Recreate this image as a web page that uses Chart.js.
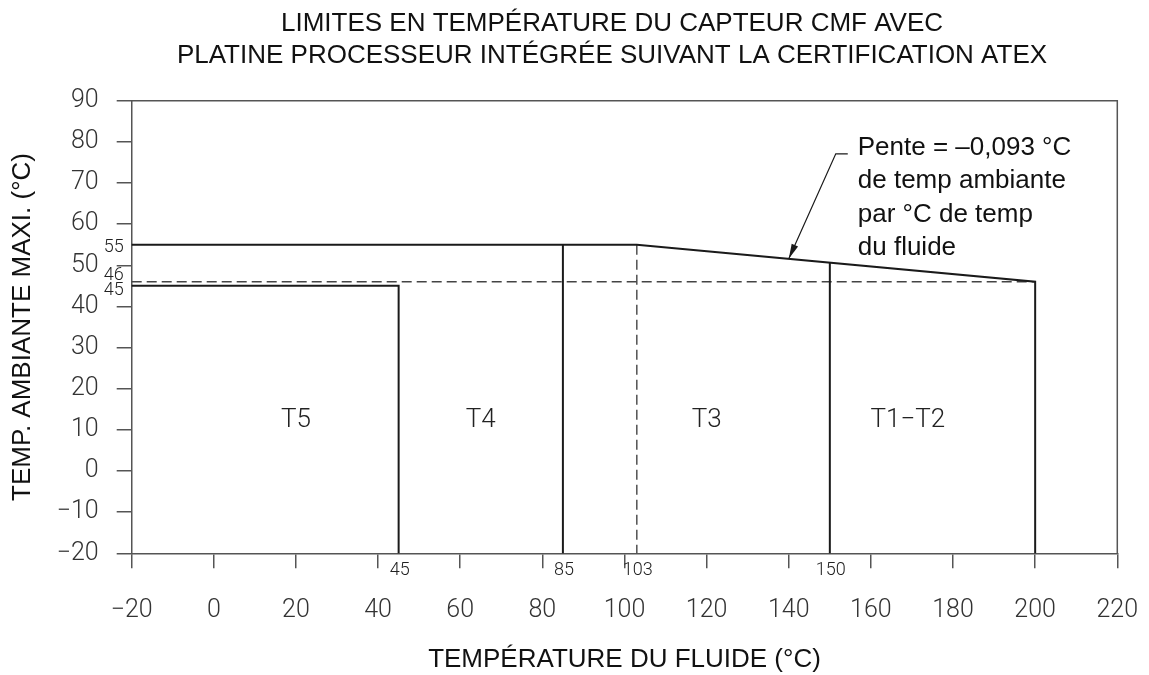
<!DOCTYPE html>
<html lang="fr">
<head>
<meta charset="utf-8">
<title>Limites en température du capteur CMF</title>
<script src="https://cdn.jsdelivr.net/npm/chart.js@4.4.1/dist/chart.umd.min.js"></script>
<style>
  html, body { margin: 0; padding: 0; background: #ffffff; }
  #wrap { width: 1149px; height: 675px; }
</style>
</head>
<body>
<div id="wrap"><canvas id="chart" width="1149" height="675"></canvas></div>
<script>
// Axis tick values
const fluidTicks = [-20, 0, 20, 40, 60, 80, 100, 120, 140, 160, 180, 200, 220];
const ambientTicks = [-20, -10, 0, 10, 20, 30, 40, 50, 60, 70, 80, 90];

// Maximum ambient temperature: 55 °C up to 103 °C of fluid, then down to 46 °C at 200 °C
const limitFluid = [-20, 103, 200, 200];
const limitAmbient = [55, 55, 46, -20];
const limitSlope = -0.093;

// T5 zone
const t5Fluid = [-20, 45, 45];
const t5Ambient = [45, 45, -20];

// T4 / T3 boundary
const t4Fluid = [85, 85];
const t4Ambient = [55, -20];

// T3 / T1-T2 boundary
const t3Fluid = [150, 150];
const t3Ambient = [50.6, -20];

// Dashed reference lines
const refFluid = [-20, 200];
const refAmbient = [46, 46];
const kneeFluid = [103, 103];
const kneeAmbient = [55, -20];

// Temperature classes
const classNames = ['T5', 'T4', 'T3', 'T1\u2212T2'];

// Values written next to the axes
const markedFluid = [45, 85, 103, 150];
const markedAmbient = [55, 46, 45];

const titleLines = [
  'LIMITES EN TEMPÉRATURE DU CAPTEUR CMF AVEC',
  'PLATINE PROCESSEUR INTÉGRÉE SUIVANT LA CERTIFICATION ATEX'
];
const noteLines = ['Pente = \u20130,093 °C', 'de temp ambiante', 'par °C de temp', 'du fluide'];

const toPoints = (xs, ys) => xs.map((v, i) => ({ x: v, y: ys[i] }));
const minus = v => (v < 0 ? '\u2212' + Math.abs(v) : String(v));

const THIN = 'Roboto';
const SANS = '"Liberation Sans", Arial, sans-serif';

function line(label, xs, ys, extra) {
  return Object.assign({
    label,
    data: toPoints(xs, ys),
    showLine: true,
    borderColor: '#1a1a1a',
    borderWidth: 2,
    pointRadius: 0,
    pointHoverRadius: 0,
    fill: false,
    tension: 0,
    clip: 4
  }, extra || {});
}

// Frame, title, zone names, marked values and the slope note
const drawingNotes = {
  id: 'drawingNotes',
  afterDatasetsDraw(chart, args, opts) {
    const { ctx, chartArea: a, scales: { x, y } } = chart;
    ctx.save();

    // top and right edges of the frame
    ctx.strokeStyle = '#555';
    ctx.lineWidth = 1.5;
    ctx.beginPath();
    ctx.moveTo(a.left, a.top);
    ctx.lineTo(a.right, a.top);
    ctx.lineTo(a.right, a.bottom);
    ctx.stroke();

    // chart title
    ctx.fillStyle = '#111';
    ctx.font = '26px ' + SANS;
    ctx.textAlign = 'center';
    ctx.textBaseline = 'alphabetic';
    titleLines.forEach((t, i) => ctx.fillText(t, opts.titleX, opts.titleBaseline + i * opts.titleLeading));

    // temperature class names
    ctx.fillStyle = '#222';
    ctx.font = '300 26px ' + THIN;
    ctx.textBaseline = 'middle';
    classNames.forEach((n, i) => {
      ctx.fillText(n, x.getPixelForValue(opts.classX[i]), y.getPixelForValue(opts.classY));
    });

    // marked fluid temperatures under the axis
    ctx.font = '300 18px ' + THIN;
    ctx.textBaseline = 'alphabetic';
    ctx.textAlign = 'center';
    markedFluid.forEach(v => ctx.fillText(String(v), x.getPixelForValue(v) + 1, a.bottom + 22));

    // marked ambient temperatures beside the axis
    ctx.textAlign = 'right';
    markedAmbient.forEach((v, i) => {
      ctx.fillText(String(v), a.left - 8, y.getPixelForValue(v) + opts.ambientShift[i]);
    });

    // leader arrow onto the sloped limit
    const tipX = x.getPixelForValue(opts.arrowFluid);
    const tipY = y.getPixelForValue(limitAmbient[1] + limitSlope * (opts.arrowFluid - limitFluid[1]));
    const elbowX = tipX + 47, elbowY = tipY - 105;
    ctx.strokeStyle = '#1a1a1a';
    ctx.fillStyle = '#1a1a1a';
    ctx.lineWidth = 1.2;
    ctx.beginPath();
    ctx.moveTo(elbowX + 12, elbowY);
    ctx.lineTo(elbowX, elbowY);
    ctx.lineTo(tipX, tipY);
    ctx.stroke();
    const ang = Math.atan2(tipY - elbowY, tipX - elbowX);
    const len = 15, half = 3.5;
    ctx.beginPath();
    ctx.moveTo(tipX, tipY);
    ctx.lineTo(tipX - len * Math.cos(ang) + half * Math.sin(ang), tipY - len * Math.sin(ang) - half * Math.cos(ang));
    ctx.lineTo(tipX - len * Math.cos(ang) - half * Math.sin(ang), tipY - len * Math.sin(ang) + half * Math.cos(ang));
    ctx.closePath();
    ctx.fill();

    // note text
    ctx.fillStyle = '#111';
    ctx.font = '26px ' + SANS;
    ctx.textAlign = 'left';
    ctx.textBaseline = 'alphabetic';
    noteLines.forEach((t, i) => ctx.fillText(t, elbowX + 22, elbowY + 1 + i * 33.5));

    ctx.restore();
  }
};

new Chart(document.getElementById('chart'), {
  type: 'scatter',
  data: {
    datasets: [
      line('Limite', limitFluid, limitAmbient),
      line('T5', t5Fluid, t5Ambient),
      line('T4', t4Fluid, t4Ambient),
      line('T3', t3Fluid, t3Ambient),
      line('46', refFluid, refAmbient, { borderColor: '#444', borderWidth: 1.4, borderDash: [10, 5] }),
      line('103', kneeFluid, kneeAmbient, { borderColor: '#444', borderWidth: 1.4, borderDash: [10, 5] })
    ]
  },
  options: {
    responsive: false,
    animation: false,
    devicePixelRatio: 1,
    events: [],
    layout: { padding: { left: 0, top: 100.7, right: 31.7, bottom: 0 } },
    plugins: {
      legend: { display: false },
      title: { display: false },
      tooltip: { enabled: false },
      drawingNotes: {
        titleX: 612,
        titleBaseline: 31,
        titleLeading: 32.3,
        classX: [20, 65, 120, 169],
        classY: 12.2,
        ambientShift: [7, -2, 9],
        arrowFluid: 140
      }
    },
    scales: {
      x: {
        type: 'linear',
        position: 'bottom',
        min: -20,
        max: 220,
        afterBuildTicks: s => { s.ticks = fluidTicks.map(v => ({ value: v })); },
        afterFit: s => { s.height = 121.7; s.paddingLeft = 0; s.paddingRight = 0; },
        ticks: {
          callback: v => minus(v),
          font: { family: THIN, weight: '300', size: 25 },
          color: '#333',
          padding: 27,
          maxRotation: 0
        },
        grid: { drawOnChartArea: false, drawTicks: true, tickLength: 15, color: '#555', lineWidth: 1.5 },
        border: { display: true, color: '#555', width: 1.5 },
        title: {
          display: true,
          text: 'TEMPÉRATURE DU FLUIDE (°C)',
          font: { family: SANS, size: 26 },
          color: '#111',
          padding: { top: 0, bottom: 0 }
        }
      },
      y: {
        type: 'linear',
        position: 'left',
        min: -20,
        max: 90,
        afterBuildTicks: s => { s.ticks = ambientTicks.map(v => ({ value: v })); },
        afterFit: s => { s.width = 131.7; },
        ticks: {
          callback: v => minus(v),
          font: { family: THIN, weight: '300', size: 25 },
          color: '#333',
          padding: 18
        },
        grid: { drawOnChartArea: false, drawTicks: true, tickLength: 15, color: '#555', lineWidth: 1.5 },
        border: { display: true, color: '#555', width: 1.5 },
        title: {
          display: true,
          text: 'TEMP. AMBIANTE MAXI. (°C)',
          font: { family: SANS, size: 26 },
          color: '#111',
          padding: { top: 7, bottom: 0 }
        }
      }
    }
  },
  plugins: [drawingNotes]
});
</script>
</body>
</html>
